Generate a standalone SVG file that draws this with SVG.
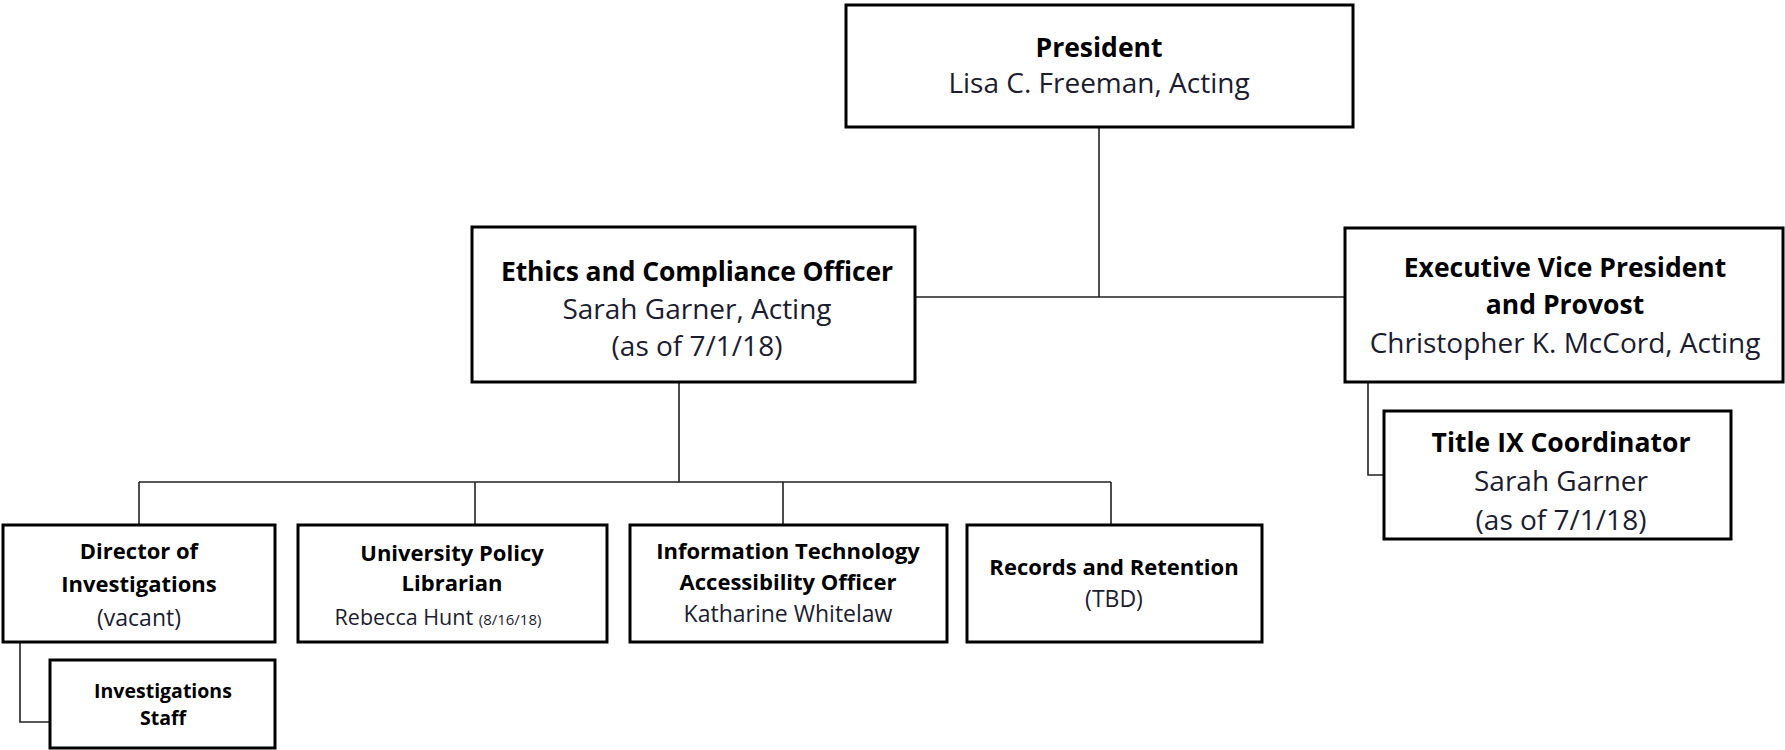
<svg xmlns="http://www.w3.org/2000/svg" width="1785" height="750" viewBox="0 0 1785 750">
<style>
.box{fill:#fff;stroke:#000;stroke-width:3}
.conn{fill:none;stroke:#222;stroke-width:1.6}
text{font-family:"Open Sans","Liberation Sans",sans-serif;text-anchor:middle}
.t{font-weight:bold;fill:#000}
.n{fill:#1c1c30}
.bt{font-size:26.5px}
.bn{font-size:28px}
.st{font-size:22px}
.sn{font-size:23px}
.xs{font-size:19.5px}
</style>
<rect width="1785" height="750" fill="#fff"/>
<g id="connectors">
<path class="conn" d="M1099,127 V297 M915,297 H1345"/>
<path class="conn" d="M679,382 V482 M139,482 H1111 M139,482 V525 M475,482 V525 M783,482 V525 M1111,482 V525"/>
<path class="conn" d="M1368,382 V475 H1384"/>
<path class="conn" d="M20,642 V722 H50"/>
</g>
<g id="president">
<rect class="box" x="846" y="5" width="507" height="122"/>
<text class="t bt" x="1099" y="57">President</text>
<text class="n bn" x="1099" y="93">Lisa C. Freeman, Acting</text>
</g>
<g id="ethics">
<rect class="box" x="472" y="227" width="443" height="155"/>
<text class="t bt" x="697" y="281" textLength="392">Ethics and Compliance Officer</text>
<text class="n bn" x="697" y="319">Sarah Garner, Acting</text>
<text class="n bn" x="697" y="356">(as of 7/1/18)</text>
</g>
<g id="evp">
<rect class="box" x="1345" y="228" width="438" height="154"/>
<text class="t bt" x="1565" y="277">Executive Vice President</text>
<text class="t bt" x="1565" y="314">and Provost</text>
<text class="n bn" x="1565" y="353">Christopher K. McCord, Acting</text>
</g>
<g id="title-ix">
<rect class="box" x="1384" y="411" width="347" height="128"/>
<text class="t bt" x="1561" y="452">Title IX Coordinator</text>
<text class="n bn" x="1561" y="491">Sarah Garner</text>
<text class="n bn" x="1561" y="530">(as of 7/1/18)</text>
</g>
<g id="director">
<rect class="box" x="3" y="525" width="272" height="117"/>
<text class="t st" x="139" y="559">Director of</text>
<text class="t st" x="139" y="592">Investigations</text>
<text class="n sn" x="139" y="626">(vacant)</text>
</g>
<g id="staff">
<rect class="box" x="50" y="660" width="225" height="88"/>
<text class="t xs" x="163" y="698">Investigations</text>
<text class="t xs" x="163" y="725">Staff</text>
</g>
<g id="librarian">
<rect class="box" x="298" y="525" width="309" height="117"/>
<text class="t st" x="452" y="561">University Policy</text>
<text class="t st" x="452" y="591">Librarian</text>
<text class="n" font-size="21.5" x="438" y="625">Rebecca Hunt <tspan font-size="15">(8/16/18)</tspan></text>
</g>
<g id="it">
<rect class="box" x="630" y="525" width="317" height="117"/>
<text class="t st" x="788" y="559">Information Technology</text>
<text class="t st" x="788" y="590">Accessibility Officer</text>
<text class="n sn" x="788" y="622">Katharine Whitelaw</text>
</g>
<g id="records">
<rect class="box" x="967" y="525" width="295" height="117"/>
<text class="t st" x="1114" y="575">Records and Retention</text>
<text class="n sn" x="1114" y="607">(TBD)</text>
</g>
</svg>
